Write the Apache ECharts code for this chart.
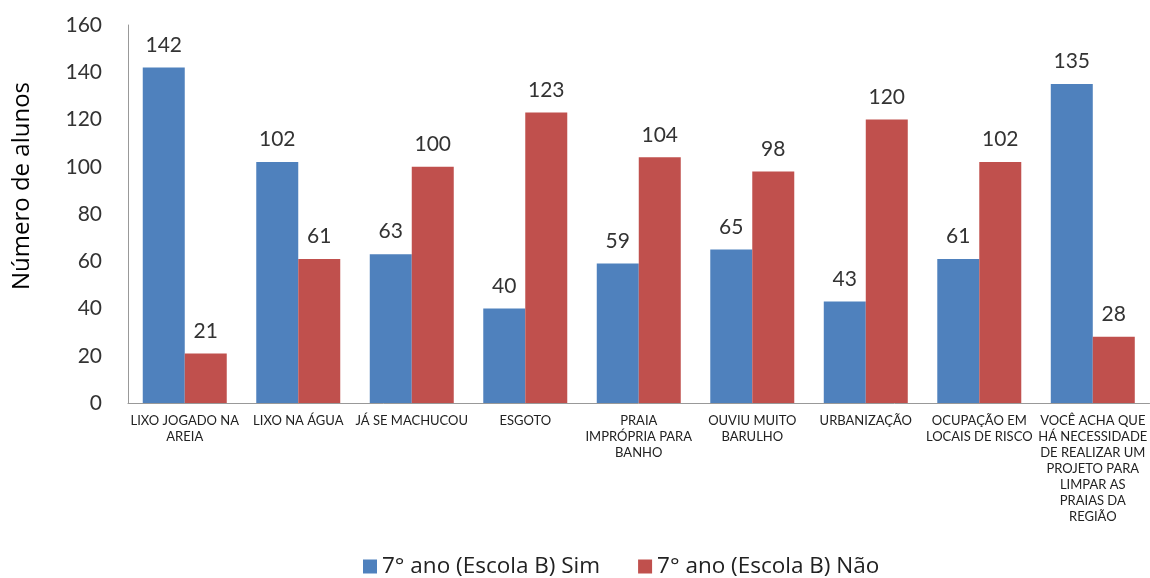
<!DOCTYPE html>
<html>
<head>
<meta charset="utf-8">
<script src="https://cdn.jsdelivr.net/npm/echarts@6/dist/echarts.min.js"></script>
<style>
  html, body { margin: 0; padding: 0; background: #fff; }
  #chart { width: 1150px; height: 578px; }
</style>
</head>
<body>
<div id="chart"></div>
<script>
// Categorias (perguntas) e respostas dos alunos
const categories = [
  'LIXO JOGADO NA\nAREIA',
  'LIXO NA ÁGUA',
  'JÁ SE MACHUCOU',
  'ESGOTO',
  'PRAIA\nIMPRÓPRIA PARA\nBANHO',
  'OUVIU MUITO\nBARULHO',
  'URBANIZAÇÃO',
  'OCUPAÇÃO EM\nLOCAIS DE RISCO',
  'VOCÊ ACHA QUE\nHÁ NECESSIDADE\nDE REALIZAR UM\nPROJETO PARA\nLIMPAR AS\nPRAIAS DA\nREGIÃO'
];
const simValues = [142, 102, 63, 40, 59, 65, 43, 61, 135];
const naoValues = [21, 61, 100, 123, 104, 98, 120, 102, 28];
const seriesNames = ['7° ano (Escola B) Sim', '7° ano (Escola B) Não'];
const yTicks = { min: 0, max: 160, interval: 20 };

const font = 'Lato, "Open Sans", "DejaVu Sans", sans-serif';
const wideFont = '"Open Sans", Lato, "DejaVu Sans", sans-serif';
const chart = echarts.init(document.getElementById('chart'));

const labelStyle = {
  show: true,
  position: 'top',
  distance: 12,
  fontFamily: font,
  fontSize: 21,
  color: '#333'
};

chart.setOption({
  animation: false,
  grid: { left: 128, right: -5, top: 25, bottom: 175 },
  legend: {
    bottom: -5,
    left: 358,
    itemWidth: 14,
    itemHeight: 14,
    itemGap: 38,
    icon: 'rect',
    textStyle: { fontFamily: wideFont, fontSize: 22.5, color: '#222' },
    data: seriesNames
  },
  xAxis: {
    type: 'category',
    data: categories,
    axisLine: { lineStyle: { color: '#999' } },
    axisTick: { show: false },
    axisLabel: {
      interval: 0,
      margin: 10,
      fontFamily: font,
      fontSize: 13,
      lineHeight: 16,
      color: '#222',
      align: 'center'
    }
  },
  yAxis: {
    type: 'value',
    min: yTicks.min,
    max: yTicks.max,
    interval: yTicks.interval,
    name: 'Número de alunos',
    nameLocation: 'middle',
    nameRotate: 90,
    nameGap: 94,
    nameTextStyle: { fontFamily: wideFont, fontSize: 24, color: '#000', padding: [0, 0, 0, 56] },
    splitLine: { show: false },
    axisLine: { show: true, lineStyle: { color: '#999' } },
    axisTick: { show: false },
    axisLabel: {
      margin: 26,
      fontFamily: font,
      fontSize: 21,
      color: '#333'
    }
  },
  series: [
    {
      name: seriesNames[0],
      type: 'bar',
      data: simValues,
      barGap: '0%',
      barCategoryGap: '26%',
      itemStyle: { color: '#4F81BD' },
      label: labelStyle
    },
    {
      name: seriesNames[1],
      type: 'bar',
      data: naoValues,
      itemStyle: { color: '#C0504D' },
      label: labelStyle
    }
  ]
});
</script>
</body>
</html>
